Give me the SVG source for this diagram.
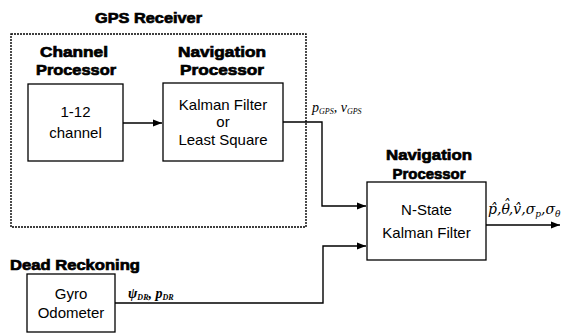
<svg xmlns="http://www.w3.org/2000/svg" width="564" height="336" viewBox="0 0 564 336">
<style>
.box{fill:#fff;stroke:#000;stroke-width:1.3}
.dash{fill:none;stroke:#000;stroke-width:1.4;stroke-dasharray:2 1}
.hd{font-family:"Liberation Sans",Arial,sans-serif;font-weight:bold;font-size:15px;fill:#000;stroke:#000;stroke-width:0.7;text-anchor:middle}
.tx{font-family:"Liberation Sans",Arial,sans-serif;font-size:15px;fill:#000;text-anchor:middle}
.math{font-family:"Liberation Serif","Times New Roman",serif;font-style:italic;font-size:14px;fill:#000}
.out{font-family:"DejaVu Serif",serif;font-style:italic;font-size:14px;fill:#000}
.wire{fill:none;stroke:#000;stroke-width:1.4}
</style>
<defs>
<marker id="ah" markerWidth="10" markerHeight="8" refX="9" refY="4" orient="auto" markerUnits="userSpaceOnUse">
<path d="M0,0.5 L9,4 L0,7.5 Z" fill="#000"/>
</marker>
</defs>
<g id="gps-receiver">
<rect class="dash" x="11" y="34" width="295" height="193"/>
<text class="hd" x="148.5" y="23" textLength="107" lengthAdjust="spacingAndGlyphs">GPS Receiver</text>
</g>
<g id="channel-processor">
<text class="hd" x="74" y="57" textLength="68" lengthAdjust="spacingAndGlyphs">Channel</text>
<text class="hd" x="76" y="75" textLength="80" lengthAdjust="spacingAndGlyphs">Processor</text>
<rect class="box" x="28" y="84" width="95" height="77"/>
<text class="tx" x="75.5" y="117">1-12</text>
<text class="tx" x="75.5" y="138">channel</text>
</g>
<g id="navigation-processor-gps">
<text class="hd" x="222" y="57" textLength="88" lengthAdjust="spacingAndGlyphs">Navigation</text>
<text class="hd" x="222" y="75" textLength="84" lengthAdjust="spacingAndGlyphs">Processor</text>
<rect class="box" x="163" y="83" width="120" height="78"/>
<text class="tx" x="223" y="110">Kalman Filter</text>
<text class="tx" x="223" y="127">or</text>
<text class="tx" x="223" y="145">Least Square</text>
</g>
<g id="navigation-processor-main">
<text class="hd" x="429" y="160" textLength="86" lengthAdjust="spacingAndGlyphs">Navigation</text>
<text class="hd" x="429" y="179" textLength="73" lengthAdjust="spacingAndGlyphs">Processor</text>
<rect class="box" x="367" y="182" width="119" height="78"/>
<text class="tx" x="426.5" y="215">N-State</text>
<text class="tx" x="426.5" y="238">Kalman Filter</text>
</g>
<g id="dead-reckoning">
<text class="hd" x="75" y="270" textLength="130" lengthAdjust="spacingAndGlyphs">Dead Reckoning</text>
<rect class="box" x="27" y="274" width="88" height="58"/>
<text class="tx" x="71" y="299">Gyro</text>
<text class="tx" x="71" y="318">Odometer</text>
</g>
<g id="connectors">
<path class="wire" d="M123,123 L162,123" marker-end="url(#ah)"/>
<path class="wire" d="M283,122 L322,122 L322,206 L366,206" marker-end="url(#ah)"/>
<path class="wire" d="M115,303 L323,303 L323,246 L366,246" marker-end="url(#ah)"/>
<path class="wire" d="M486,225 L560,225" marker-end="url(#ah)"/>
<text class="math" x="312" y="112">p<tspan style="font-size:8px" dy="2">GPS</tspan><tspan dy="-2">, v</tspan><tspan style="font-size:8px" dy="2">GPS</tspan></text>
<text class="math" x="128" y="298" font-weight="bold">ψ<tspan style="font-size:8px" dy="2">DR</tspan><tspan dy="-2">,  p</tspan><tspan style="font-size:8px" dy="2">DR</tspan></text>
<text class="out" x="488" y="214">p̂,θ<tspan dx="-7" dy="-4">ˆ</tspan><tspan dx="-1" dy="4">,v̂,σ</tspan><tspan style="font-size:9px" dy="3">p</tspan><tspan dy="-3">,σ</tspan><tspan style="font-size:9px" dy="3">θ</tspan></text>
</g>
</svg>
